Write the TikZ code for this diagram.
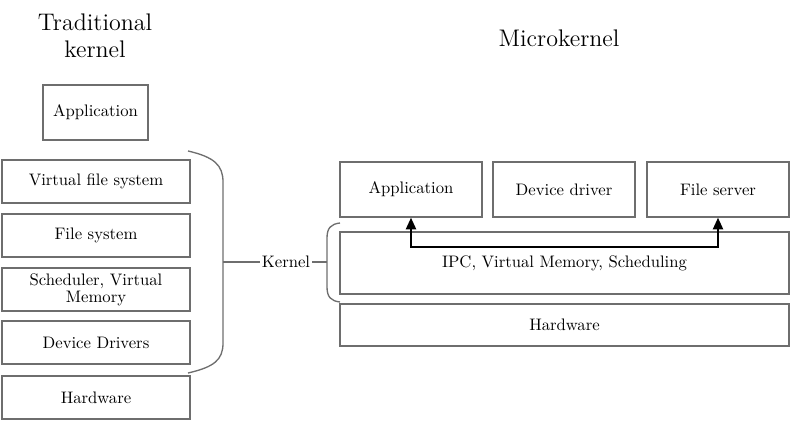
\documentclass[tikz,border=0pt]{standalone}
\usetikzlibrary{arrows.meta}
\definecolor{edgegray}{RGB}{110,110,110}

\begin{document}
\begin{tikzpicture}[x=0.6pt,y=-0.6pt,
  layer/.style = {draw=edgegray, line width=0.8pt, inner sep=0pt, align=center},
  wide/.style = {layer, minimum width=112.8pt, minimum height=25.8pt},
  small/.style = {layer, minimum width=85.2pt, minimum height=33pt},
  title/.style = {font=\Large, align=center},
  brace/.style = {draw=edgegray, line width=0.8pt},
  ipc/.style = {line width=1.3pt, {Triangle[length=7pt,width=6pt]}-{Triangle[length=7pt,width=6pt]}}]
      \useasboundingbox (0,0) rectangle (790,420);

      \node[title] at (95,36) (trad){Traditional\\[-2pt]kernel};
      \node[title] at (559,38) (micro){Microkernel};

      \node[layer, minimum width=63pt, minimum height=33pt] at (95.5,112.5) (tapp){Application};

      \node[wide] at (96,181.5) (vfs){Virtual file system};
      \node[wide] at (96,235.5) (fs){File system};
      \node[wide, text width=104pt] at (96,289.5) (sched){Scheduler, Virtual\\[-2pt]Memory};
      \node[wide] at (96,342.5) (dd){Device Drivers};
      \node[wide] at (96,397.5) (thw){Hardware};

      \node[small] at (411,189.5) (mapp){Application};
      \node[small] at (564,189.5) (mdrv){Device driver};
      \node[small] at (718,189.5) (mfs){File server};

      \node[layer, minimum width=269.4pt, minimum height=37.2pt] at (564.5,263) (mipc){IPC, Virtual Memory, Scheduling};
      \node[layer, minimum width=269.4pt, minimum height=25.2pt] at (564.5,325) (mhw){Hardware};

      \node[inner sep=1pt] at (286,262) (kern){Kernel};

      \coordinate (ltip) at (223,262);
      \coordinate (rtip) at (327,262);

      \path[brace]
      (188,151) .. controls (214,157) and (223,165) .. (223,182)
      -- (223,343) .. controls (223,360) and (214,367) .. (188,373);
      \path[brace]
      (340,223) .. controls (331,224) and (327,228) .. (327,238)
      -- (327,287) .. controls (327,297) and (331,301) .. (340,302);

      \path[brace]
      (ltip) edge (kern)
      (kern) edge (rtip)
      ;

      \draw[ipc] (mapp.south) -- ++(0,29) -| (mfs.south);

    \end{tikzpicture}
\end{document}
